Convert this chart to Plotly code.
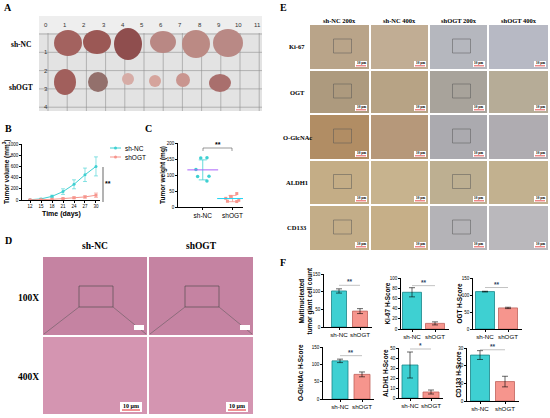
import numpy as np
import plotly.graph_objects as go

W, H = 550, 418
SANS = "Liberation Sans"
SERIF = "Liberation Serif"
CYAN = "#3ed0d2"
CYAN_DK = "#1b8588"
SALMON = "#f6958d"
SALMON_DK = "#c0625c"

# ---- data ----
groups = ["sh-NC", "shOGT"]

# B: tumour volume over time (mean, error)
days = [12, 15, 18, 21, 24, 27, 30]
vol_nc = [5, 20, 65, 150, 280, 450, 600]
vol_nc_err = [5, 10, 20, 50, 80, 120, 170]
vol_ogt = [2, 5, 12, 25, 40, 55, 85]
vol_ogt_err = [2, 3, 5, 10, 15, 20, 40]

# C: tumour weight per mouse (mg)
weight_nc = [154, 153, 117, 96, 95, 81]
weight_ogt = [42, 33, 27, 21, 18, 17]

# F: bar charts (mean, error)
f_titles = ["Multinucleated<br>tumor giant cell count", "Ki-67 H-Score", "OGT H-Score",
            "O-GlcNAc H-Score", "ALDH1 H-Score", "CD133 H-Score"]
f_nc = [102, 72, 110, 110, 33, 26]
f_nc_err = [6, 9, 1, 5, 13, 2.5]
f_ogt = [45, 11, 62, 71, 6, 11]
f_ogt_err = [7, 3, 2, 7, 2, 3]
f_sig = ["**", "**", "**", "**", "*", "**"]
f_ymax = [150, 100, 150, 150, 50, 30]
f_dtick = [50, 20, 50, 50, 10, 10]
f_sig_y = [118, 85, 122, 125, 49, 29]

# E: row / column labels
e_rows = ["Ki-67", "OGT", "O-GlcNAc", "ALDH1", "CD133"]
e_cols = ["sh-NC 200x", "sh-NC 400x", "shOGT 200x", "shOGT 400x"]


def px(p):
    return p / W


def py(p):
    return 1 - p / H


shapes = []
annos = []


def rect(x0, y0, x1, y1, fill, line=None, lw=0):
    shapes.append(dict(type="rect", xref="paper", yref="paper",
                       x0=px(x0), x1=px(x1), y0=py(y1), y1=py(y0),
                       fillcolor=fill, line=dict(width=lw, color=line or fill), layer="below"))


def line(x0, y0, x1, y1, color="black", lw=0.7, dash=None):
    shapes.append(dict(type="line", xref="paper", yref="paper",
                       x0=px(x0), x1=px(x1), y0=py(y0), y1=py(y1),
                       line=dict(width=lw, color=color, dash=dash)))


def text(x, y, s, size=7, family=SANS, color="black", angle=0, xanchor="center", bold=False):
    annos.append(dict(xref="paper", yref="paper", x=px(x), y=py(y), text=("<b>%s</b>" % s) if bold else s,
                      showarrow=False, textangle=angle, xanchor=xanchor, yanchor="middle",
                      font=dict(size=size, family=family, color=color)))


def scale_bar(x1, y1, w=12, h=6, size=3.4):
    rect(x1 - w, y1 - h, x1, y1, "white")
    shapes[-1]["layer"] = "above"
    line(x1 - w + 1, y1 - 1.2, x1 - 1, y1 - 1.2, color="#e0282a", lw=0.8)
    text(x1 - w / 2, y1 - h / 2 - 0.6, "10 μm", size=size, family=SERIF, bold=True)


fig = go.Figure()

# ================= A: tumour photo =================
text(8, 7, "A", size=10, family=SERIF, bold=True)
rect(39, 16, 262, 111, "#e3e3e3")
rect(39, 16, 262, 33, "#eeeeee")
for k in range(12):
    xx = 48 + 19.2 * k
    line(xx, 33, xx, 111, color="#8f8f8f", lw=0.6)
    text(xx - 2, 25, str(k), size=6, color="#333")
for k in range(5):
    yy = 34 + 18.3 * k
    line(39, yy, 262, yy, color="#8f8f8f", lw=0.6)
for k in range(1, 5):
    text(46, 34 + 18.3 * k, str(k), size=6, color="#333")
tumours = [(68, 43, 14, 13, "#a3625f"), (97, 42, 14, 12, "#9b5855"), (128, 44, 14, 16, "#8f4e4e"),
           (163, 42, 13, 11, "#b98884"), (196, 44, 14, 14, "#bb8a84"), (228, 43, 15, 14, "#b98985"),
           (65, 82, 11, 13, "#a15f5c"), (98, 82, 10, 10, "#93706c"), (128, 79, 6, 6, "#d6aca6"),
           (155, 81, 6, 6, "#d5a49c"), (183, 80, 7, 7, "#c9958f"), (220, 83, 11, 9, "#a96f6d")]
for cx, cy, rx, ry, col in tumours:
    shapes.append(dict(type="circle", xref="paper", yref="paper",
                       x0=px(cx - rx), x1=px(cx + rx), y0=py(cy + ry), y1=py(cy - ry),
                       fillcolor=col, line=dict(width=0)))
text(21, 45, "sh-NC", size=7.5, family=SERIF, bold=True)
text(21, 87, "shOGT", size=7.5, family=SERIF, bold=True)

# ================= B: tumour volume =================
text(8, 128, "B", size=10, family=SERIF, bold=True)
fig.add_trace(go.Scatter(x=days, y=vol_nc, mode="lines+markers", xaxis="x", yaxis="y",
                         line=dict(color=CYAN, width=1), marker=dict(size=3, color=CYAN),
                         error_y=dict(type="data", array=vol_nc_err, color=CYAN, thickness=0.6, width=2),
                         showlegend=False))
fig.add_trace(go.Scatter(x=days, y=vol_ogt, mode="lines+markers", xaxis="x", yaxis="y",
                         line=dict(color=SALMON, width=1), marker=dict(size=3, color=SALMON, symbol="square"),
                         error_y=dict(type="data", array=vol_ogt_err, color=SALMON, thickness=0.6, width=2),
                         showlegend=False))
# legend
for yy, col, name in [(148, CYAN, groups[0]), (157, SALMON, groups[1])]:
    line(110, yy, 121, yy, color=col, lw=1)
    shapes.append(dict(type="circle", xref="paper", yref="paper", x0=px(114), x1=px(117),
                       y0=py(yy + 1.5), y1=py(yy - 1.5), fillcolor=col, line=dict(width=0)))
    text(123, yy, name, size=6.5, xanchor="left")
line(103, 167, 103, 202, lw=0.6)
text(108, 183, "**", size=7, bold=True)
text(61, 214, "Time (days)", size=7, bold=True)
text(7, 172, "Tumor volume (mm<sup>3</sup>)", size=6.5, angle=-90, bold=True)

# ================= C: tumour weight =================
text(148, 128, "C", size=10, family=SERIF, bold=True)
for i, (vals, col, sym) in enumerate([(weight_nc, CYAN, "circle"), (weight_ogt, SALMON, "square")]):
    fig.add_trace(go.Box(x=[i] * len(vals), y=vals, boxpoints="all", jitter=0.9, pointpos=0,
                         fillcolor="rgba(0,0,0,0)", line=dict(width=0, color="rgba(0,0,0,0)"),
                         marker=dict(color=col, size=3.5 if i == 0 else 3, symbol=sym),
                         xaxis="x2", yaxis="y2", showlegend=False, width=0.6))
    fig.add_trace(go.Scatter(x=[i], y=[np.mean(vals)], mode="markers", xaxis="x2", yaxis="y2",
                             marker=dict(symbol="line-ew-open", size=22, line=dict(width=1, color=col)),
                             error_y=dict(type="data", array=[np.std(vals, ddof=1)], color=col,
                                          thickness=0.8, width=4),
                             showlegend=False))
line(203, 151, 203, 148, color="#555", lw=0.6)
line(203, 148, 232, 148, color="#555", lw=0.6)
line(232, 148, 232, 151, color="#555", lw=0.6)
text(218, 144, "**", size=7, bold=True)
text(163, 175, "Tumor weight (mg)", size=6.5, angle=-90, bold=True)

# ================= D: H&E =================
text(8, 240, "D", size=10, family=SERIF, bold=True)
text(95, 246, "sh-NC", size=9.5, family=SERIF, bold=True)
text(201, 246, "shOGT", size=9.5, family=SERIF, bold=True)
text(28, 298, "100X", size=9.5, family=SERIF, bold=True)
text(28, 377, "400X", size=9.5, family=SERIF, bold=True)
for x0, x1 in [(43, 147), (149, 253)]:
    rect(x0, 257, x1, 335, "#c583a2")
    rect(x0, 337, x1, 414, "#d495b1")
    bx0 = x0 + 36
    rect(bx0, 286, bx0 + 34, 307, "rgba(0,0,0,0)", line="#444", lw=0.6)
    shapes[-1]["layer"] = "above"
    line(bx0, 307, x0 + 1, 334, color="#555", lw=0.5)
    line(bx0 + 34, 307, x1 - 1, 334, color="#555", lw=0.5)
    rect(x1 - 13, 325, x1 - 3, 330, "white")
    shapes[-1]["layer"] = "above"
    rect(x1 - 27, 402, x1 - 5, 412, "white")
    shapes[-1]["layer"] = "above"
    line(x1 - 25, 410, x1 - 7, 410, color="#e0282a", lw=1)
    text(x1 - 16, 406, "10 μm", size=6, family=SERIF, bold=True)

# ================= E: IHC grid =================
text(283, 7, "E", size=10, family=SERIF, bold=True)
e_x = [(310, 369), (371, 428), (430, 487), (489, 548)]
e_y = [(25, 69), (71, 113), (115, 159), (161, 204), (206, 250)]
e_colors = [["#b9a489", "#c1ad94", "#b5b7be", "#b7b9c4"],
            ["#ad9a7e", "#b7a385", "#a8a39b", "#b6ac97"],
            ["#b18d64", "#b6987a", "#abaaaf", "#afacb1"],
            ["#c4ad86", "#c7b38e", "#bdaf91", "#c2b18f"],
            ["#c3ad88", "#c6af88", "#b4b3b7", "#bab8bc"]]
for j, name in enumerate(e_cols):
    text((e_x[j][0] + e_x[j][1]) / 2, 20, name, size=6.5, family=SERIF, bold=True)
for i, name in enumerate(e_rows):
    text(297, (e_y[i][0] + e_y[i][1]) / 2, name, size=6.5, family=SERIF, bold=True)
    for j in range(4):
        (x0, x1), (y0, y1) = e_x[j], e_y[i]
        rect(x0, y0, x1, y1, e_colors[i][j])
        if j in (0, 2):
            cx, cy = (x0 + x1) / 2 + 3, (y0 + y1) / 2 - 1
            rect(cx - 9, cy - 7, cx + 9, cy + 7, "rgba(0,0,0,0)", line="#555", lw=0.5)
            shapes[-1]["layer"] = "above"
        scale_bar(x1 - 2, y1 - 2)

# ================= F: bar charts =================
text(283, 262, "F", size=10, family=SERIF, bold=True)
# geometry per panel: axis left px, bar centres px, bar width px, top px, bottom px, title x px
f_geo = [(324, 339, 360, 15, 274, 327, 305), (401, 412, 435, 19, 278, 329, 387),
         (473, 485, 508, 19, 278, 329, 459), (323, 340, 362, 16, 347, 399, 300),
         (399, 410, 431, 16, 348, 398, 385), (467, 480, 505, 19, 348, 401, 458)]
layout_axes = {}
for k in range(6):
    L, c0, c1, bw, top, bot, tx = f_geo[k]
    unit = c1 - c0
    R = c1 + bw / 2 + 4
    n = k + 3
    fig.add_trace(go.Bar(x=[0, 1], y=[f_nc[k], f_ogt[k]], width=bw / unit,
                         marker=dict(color=[CYAN, SALMON], line=dict(color=[CYAN_DK, SALMON_DK], width=0.8)),
                         error_y=dict(type="data", array=[f_nc_err[k], f_ogt_err[k]], color="black",
                                      thickness=0.6, width=3),
                         xaxis="x%d" % n, yaxis="y%d" % n, showlegend=False))
    layout_axes["xaxis%d" % n] = dict(domain=[px(L), px(R)], range=[(L - c0) / unit, (R - c0) / unit],
                                      anchor="y%d" % n, tickvals=[0, 1], ticktext=groups, tickangle=0,
                                      tickfont=dict(size=6.2, family=SANS, color="black"))
    layout_axes["yaxis%d" % n] = dict(domain=[py(bot), py(top)], range=[0, f_ymax[k]], dtick=f_dtick[k],
                                      anchor="x%d" % n)
    shapes.append(dict(type="line", xref="x%d" % n, yref="y%d" % n, x0=0, x1=1,
                       y0=f_sig_y[k], y1=f_sig_y[k], line=dict(color="#999", width=0.6)))
    annos.append(dict(xref="x%d" % n, yref="y%d" % n, x=0.5, y=f_sig_y[k], text="<b>%s</b>" % f_sig[k],
                      showarrow=False, yanchor="bottom", yshift=-2, font=dict(size=6.5, family=SANS)))
    text(tx, (top + bot) / 2, f_titles[k], size=6.4, angle=-90, bold=True)


def ax(**kw):
    base = dict(showline=True, linecolor="black", linewidth=0.8, ticks="outside", ticklen=2,
                tickwidth=0.6, tickcolor="black", tickfont=dict(size=4.5, family=SANS, color="black"),
                showgrid=False, zeroline=False, fixedrange=True, automargin=False)
    tf = kw.pop("tickfont", None)
    base.update(kw)
    if tf:
        base["tickfont"] = tf
    return base


layout = dict(
    xaxis=ax(domain=[px(22), px(100)], range=[9.8, 31.1], tickvals=days, anchor="y", tickangle=0),
    yaxis=ax(domain=[py(200), py(144)], range=[0, 1000], dtick=200, anchor="x"),
    xaxis2=ax(domain=[px(178), px(243)], range=[-0.83, 1.35], tickvals=[0, 1], ticktext=groups,
              anchor="y2", tickangle=0, tickfont=dict(size=6.5, family=SANS, color="black")),
    yaxis2=ax(domain=[py(207), py(143)], range=[0, 200], dtick=50, anchor="x2"),
)
for key, val in layout_axes.items():
    layout[key] = ax(**val)

fig.update_layout(width=W, height=H, margin=dict(l=0, r=0, t=0, b=0), plot_bgcolor="white",
                  paper_bgcolor="white", shapes=shapes, annotations=annos, showlegend=False,
                  font=dict(family=SANS), **layout)

# drop the page's default body margin so the figure sits at the window's top-left corner
fig.write_html("out.html", config={"displayModeBar": False},
               post_script="document.body.style.margin='0';")
